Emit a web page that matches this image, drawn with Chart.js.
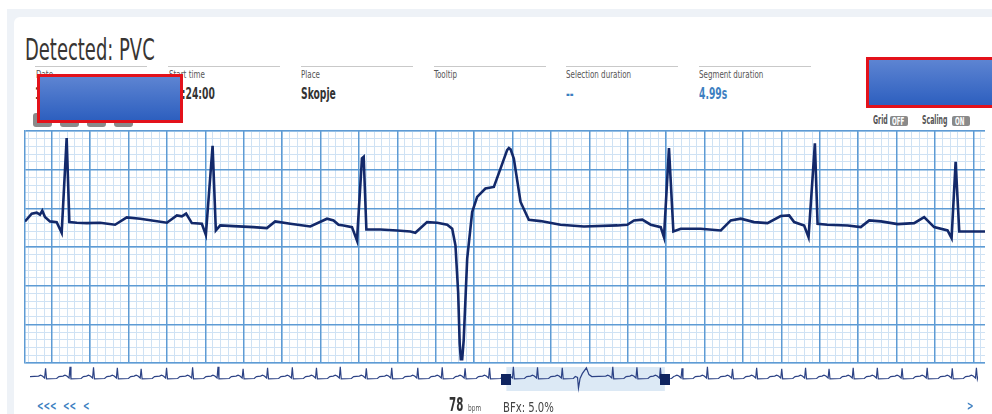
<!DOCTYPE html>
<html>
<head>
<meta charset="utf-8">
<script src="https://cdn.jsdelivr.net/npm/chart.js@4.4.1/dist/chart.umd.min.js"></script>
<style>
html, body { margin: 0; padding: 0; width: 992px; height: 414px; overflow: hidden; background: #fff; }
#wrap { position: absolute; left: 7px; top: 9px; width: 985px; height: 405px; background: #eef2f7; }
#card { position: absolute; left: 14px; top: 17px; width: 990px; height: 420px; background: #fff; border-radius: 6px; }
.t { position: absolute; white-space: nowrap; line-height: 1; font-family: "DejaVu Sans Condensed", "DejaVu Sans", sans-serif; transform: scaleX(.72); transform-origin: 0 0; }
.rule { position: absolute; top: 66px; height: 1px; width: 112px; background: #c9c9c9; }
.lbl { top: 69px; font-size: 11px; color: #555; }
.val { top: 87px; font-size: 15.5px; font-weight: bold; color: #333; transform: scaleX(.66); }
.blue { color: #3d7fc1; }
.badge { position: absolute; background: #8a8a8a; border-radius: 2px; }
.badge span { position: absolute; left: 2px; top: 0.5px; font-size: 10px; font-weight: bold; color: #fff; transform: scaleX(.62); }
.btn { position: absolute; top: 113px; height: 14px; width: 19px; background: #8a8a8a; border-radius: 3px; }
.redact { position: absolute; box-sizing: border-box; border: 3px solid #e3121b; background: linear-gradient(#5d84d2, #2d5fbf); }
canvas { position: absolute; }
</style>
</head>
<body>
<div id="wrap"></div>
<div id="card"></div>

<div class="t" style="left:25px; top:35px; font-size:30px; color:#383533; transform:scaleX(.665);">Detected: PVC</div>

<div class="rule" style="left:35px"></div>
<div class="rule" style="left:168px"></div>
<div class="rule" style="left:301px"></div>
<div class="rule" style="left:434px"></div>
<div class="rule" style="left:566px"></div>
<div class="rule" style="left:699px"></div>

<div class="t lbl" style="left:36px">Date</div>
<div class="t lbl" style="left:169px">Start time</div>
<div class="t lbl" style="left:301px">Place</div>
<div class="t lbl" style="left:434px">Tooltip</div>
<div class="t lbl" style="left:566px">Selection duration</div>
<div class="t lbl" style="left:699px">Segment duration</div>

<div class="t val" style="left:35px">14.03.2019</div>
<div class="t val" style="left:169px">12:24:00</div>
<div class="t val" style="left:301px">Skopje</div>
<div class="t val blue" style="left:566px">--</div>
<div class="t val blue" style="left:699px">4.99s</div>

<div class="btn" style="left:33px"></div>
<div class="btn" style="left:60px"></div>
<div class="btn" style="left:87px"></div>
<div class="btn" style="left:114px"></div>

<div class="redact" style="left:37px; top:74px; width:146px; height:49px;"></div>
<div class="redact" style="left:866px; top:57px; width:130px; height:51px;"></div>

<div class="t" style="left:873px; top:114.5px; font-size:11.5px; font-weight:bold; color:#555; transform:scaleX(.6);">Grid</div>
<div class="badge" style="left:890px; top:116px; width:18px; height:10px;"><span class="t">OFF</span></div>
<div class="t" style="left:922px; top:114.5px; font-size:11.5px; font-weight:bold; color:#555; transform:scaleX(.6);">Scaling</div>
<div class="badge" style="left:952px; top:116px; width:18px; height:10px;"><span class="t" style="left:3px">ON</span></div>

<canvas id="ecg" width="962" height="234" style="left:24px; top:130px;"></canvas>
<canvas id="overview" width="948" height="32" style="left:30px; top:362px;"></canvas>

<div class="t blue" style="left:37px; top:400px; font-size:12px; font-weight:bold;">&lt;&lt;&lt;</div>
<div class="t blue" style="left:63px; top:400px; font-size:12px; font-weight:bold;">&lt;&lt;</div>
<div class="t blue" style="left:83px; top:400px; font-size:12px; font-weight:bold;">&lt;</div>
<div class="t" style="left:449px; top:394px; font-size:20px; font-weight:bold; color:#333; transform:scaleX(.57);">78</div>
<div class="t" style="left:468px; top:403.5px; font-size:9px; color:#555;">bpm</div>
<div class="t" style="left:503px; top:399.5px; font-size:14px; color:#444; transform:scaleX(.8);">BFx: 5.0%</div>
<div class="t blue" style="left:967px; top:400px; font-size:12px; font-weight:bold;">&gt;</div>

<script>
// main strip: 5 s of ECG, seconds / mV
const ecgTimes = [
    0.000, 0.035, 0.061, 0.078, 0.090, 0.104, 0.130, 0.165, 0.191, 0.217,
    0.231, 0.270, 0.322, 0.391, 0.469, 0.530, 0.600, 0.739, 0.791, 0.817,
    0.839, 0.869, 0.921, 0.942, 0.977, 0.994, 1.017, 1.086, 1.190, 1.260,
    1.303, 1.382, 1.486, 1.573, 1.607, 1.633, 1.659, 1.703, 1.729, 1.755,
    1.764, 1.778, 1.851, 1.938, 2.007, 2.033, 2.094, 2.147, 2.199, 2.225,
    2.242, 2.256, 2.264, 2.270, 2.277, 2.285, 2.303, 2.329, 2.355, 2.398,
    2.442, 2.477, 2.511, 2.520, 2.529, 2.546, 2.581, 2.624, 2.685, 2.789,
    2.911, 3.085, 3.137, 3.172, 3.215, 3.259, 3.311, 3.328, 3.354, 3.377,
    3.415, 3.519, 3.624, 3.676, 3.728, 3.797, 3.867, 3.936, 3.980, 4.006,
    4.058, 4.081, 4.114, 4.128, 4.180, 4.284, 4.353, 4.397, 4.458, 4.545,
    4.631, 4.683, 4.735, 4.805, 4.826, 4.847, 4.866, 4.927, 5.000,
];
const ecgValues = [
    -0.169, -0.069, -0.056, -0.082, -0.030, -0.113, -0.169, -0.178, -0.316, 0.909,
    -0.178, -0.186, -0.191, -0.186, -0.212, -0.117, -0.134, -0.186, -0.091, -0.104,
    -0.069, -0.191, -0.199, -0.342, 0.809, -0.286, -0.221, -0.230, -0.243, -0.256,
    -0.169, -0.199, -0.234, -0.134, -0.156, -0.212, -0.221, -0.243, -0.416, 0.645,
    0.666, -0.273, -0.273, -0.286, -0.299, -0.316, -0.178, -0.186, -0.212, -0.264,
    -0.481, -1.087, -1.750, -1.950, -1.950, -1.700, -0.653, -0.048, 0.147, 0.256,
    0.277, 0.516, 0.753, 0.780, 0.762, 0.645, 0.082, -0.147, -0.165, -0.212,
    -0.234, -0.221, -0.212, -0.156, -0.147, -0.212, -0.243, -0.373, 0.779, -0.299,
    -0.264, -0.264, -0.286, -0.156, -0.134, -0.178, -0.191, -0.100, -0.091, -0.178,
    -0.221, -0.373, 0.840, -0.199, -0.212, -0.221, -0.243, -0.156, -0.169, -0.204,
    -0.191, -0.113, -0.243, -0.286, -0.386, 0.601, -0.299, -0.299, -0.299,
];

// ECG paper: 0.04 s / 0.1 mV small boxes, 0.2 s / 0.5 mV big boxes
const xRange = [0, 5];
const yRange = [-2, 1];
const xMinorStart = 0.019;
const xMinorStep = 0.04;
const xMajorStart = 0.139;
const xMajorStep = 0.2;
const yMinorStart = 0;
const yMinorStep = 0.1;
const yMajorStart = 0;
const yMajorStep = 0.5;

// overview: 30 s recording, beat times (s) and relative spike heights
const overviewRange = [0, 29.85];
const overviewBeatTimes = [
    0.49, 1.26, 2.00, 2.75, 3.50, 4.30, 5.12, 5.92, 6.71, 7.48,
    8.26, 9.02, 9.77, 10.59, 11.39, 12.21, 12.98, 13.70, 14.47, 15.22,
    15.98, 16.76, 18.35, 19.11, 19.85, 20.53, 21.33, 22.12, 22.88, 23.67,
    24.42, 25.16, 25.92, 26.68, 27.46, 28.25, 29.04, 29.80,
];
const overviewBeatAmps = [
    0.85, 1.0, 0.95, 0.9, 0.8, 0.9, 0.95, 1.0, 0.8, 0.9,
    0.95, 0.9, 1.0, 0.85, 0.9, 0.9, 0.95, 0.85, 0.9, 1.0,
    0.95, 0.9, 1.0, 0.95, 0.9, 0.85, 1.0, 0.8, 0.9, 0.8,
    0.9, 0.8, 0.9, 0.9, 0.85, 0.9, 0.85, 0.9,
];
const beatShapeDt = [-0.22, -0.16, -0.10, -0.03, 0, 0.03, 0.35, 0.42];
const beatShapeV = [0.05, 0.15, 0.05, -0.15, null, -0.25, -0.2, 0];
const pvcTime = 17.27;
const pvcShapeDt = [-0.1, -0.03, 0, 0.05, 0.12, 0.25, 0.33, 0.42];
const pvcShapeV = [0, -0.1, -1.2, -0.2, 0.3, 0.9, 0.2, 0];
const selection = [15.0, 19.99];

function gridTicks(range, start, step) {
    const ticks = [];
    let k = Math.ceil((range[0] - start) / step - 1e-6);
    for (; start + k * step <= range[1] + 1e-6; k++) {
        ticks.push({ value: +(start + k * step).toFixed(4) });
    }
    return ticks;
}

function gridAxis(axis, range, start, step, color, width, z, border) {
    return {
        type: 'linear',
        axis,
        position: axis === 'x' ? 'bottom' : 'left',
        min: range[0],
        max: range[1],
        z,
        ticks: { display: false },
        grid: { color, lineWidth: width, drawTicks: false },
        border: border ? { display: true, color, width } : { display: false },
        afterBuildTicks: (scale) => {
            scale.ticks = gridTicks(range, start, step);
        },
    };
}

const minorColor = '#cfe2f4';
const majorColor = '#5e9bd4';

new Chart(document.getElementById('ecg'), {
    type: 'line',
    data: {
        datasets: [{
            data: ecgTimes.map((t, i) => ({ x: t, y: ecgValues[i] })),
            borderColor: '#13296a',
            borderWidth: 2.6,
            pointRadius: 0,
            tension: 0,
            xAxisID: 'x',
            yAxisID: 'y',
        }],
    },
    options: {
        responsive: false,
        animation: false,
        events: [],
        layout: { padding: 1 },
        plugins: { legend: { display: false }, tooltip: { enabled: false } },
        scales: {
            x: gridAxis('x', xRange, xMinorStart, xMinorStep, minorColor, 1, -1, false),
            y: gridAxis('y', yRange, yMinorStart, yMinorStep, minorColor, 1, -1, false),
            xMajor: gridAxis('x', xRange, xMajorStart, xMajorStep, majorColor, 1.5, 0, false),
            yMajor: gridAxis('y', yRange, yMajorStart, yMajorStep, majorColor, 1.5, 0, true),
        },
    },
});

function overviewPoints() {
    const pts = [{ x: overviewRange[0], y: 0 }];
    overviewBeatTimes.forEach((t, i) => {
        beatShapeDt.forEach((dt, j) => {
            pts.push({ x: t + dt, y: beatShapeV[j] === null ? overviewBeatAmps[i] : beatShapeV[j] });
        });
    });
    pvcShapeDt.forEach((dt, j) => pts.push({ x: pvcTime + dt, y: pvcShapeV[j] }));
    pts.push({ x: overviewRange[1], y: 0 });
    return pts.sort((a, b) => a.x - b.x);
}

const selectionPlugin = {
    id: 'selection',
    beforeDatasetsDraw(chart) {
        const { ctx, scales } = chart;
        const x0 = scales.x.getPixelForValue(selection[0]);
        const x1 = scales.x.getPixelForValue(selection[1]);
        ctx.save();
        ctx.fillStyle = '#dce9f5';
        ctx.fillRect(x0, 5, x1 - x0, 24);
        ctx.restore();
    },
    afterDatasetsDraw(chart) {
        const { ctx, scales } = chart;
        ctx.save();
        ctx.fillStyle = '#0f2460';
        selection.forEach((s) => {
            const x = scales.x.getPixelForValue(s);
            ctx.fillRect(Math.round(x - 5), 12, 10, 11);
        });
        ctx.restore();
    },
};

new Chart(document.getElementById('overview'), {
    type: 'line',
    data: {
        datasets: [{
            data: overviewPoints(),
            borderColor: '#2c4285',
            borderWidth: 1.2,
            pointRadius: 0,
            tension: 0,
        }],
    },
    options: {
        responsive: false,
        animation: false,
        events: [],
        layout: { padding: 0 },
        plugins: { legend: { display: false }, tooltip: { enabled: false } },
        scales: {
            x: { type: 'linear', display: false, min: overviewRange[0], max: overviewRange[1] },
            y: { type: 'linear', display: false, min: -1.8, max: 1.5 },
        },
    },
    plugins: [selectionPlugin],
});
</script>
</body>
</html>
